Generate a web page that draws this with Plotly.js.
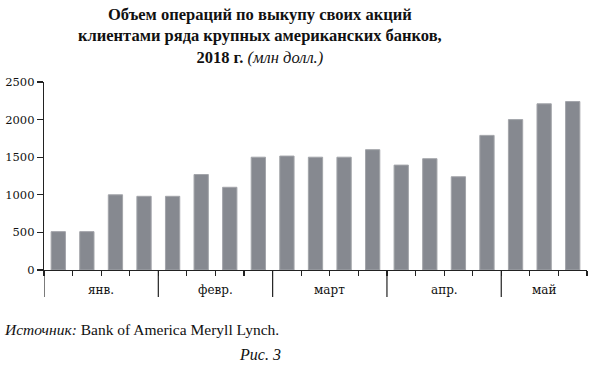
<!DOCTYPE html>
<html>
<head>
<meta charset="utf-8">
<script src="https://cdn.plot.ly/plotly-3.0.1.min.js"></script>
<style>html,body{margin:0;padding:0;background:#fff;}#chart{width:595px;height:371px;}</style>
</head>
<body>
<div id="chart"></div>
<script>
// Data
const months = ['янв.', 'февр.', 'март', 'апр.', 'май'];
const monthCounts = [4, 4, 4, 4, 3];
const values = [510, 510, 1000, 980, 980, 1270, 1100, 1500, 1515, 1500, 1500, 1600, 1395, 1480, 1240, 1790, 2000, 2210, 2240];
const yTicks = [0, 500, 1000, 1500, 2000, 2500];

// Build categories (one per bar, grouped by month)
const categories = [];
months.forEach((m, i) => { for (let j = 0; j < monthCounts[i]; j++) categories.push(m + ' #' + (j + 1)); });

// Month group boundaries and centers (category index units)
const shapes = [];
const annotations = [];
let start = 0;
months.forEach((m, i) => {
  const b0 = start - 0.5;
  shapes.push({type: 'line', xref: 'x', yref: 'paper', x0: b0, x1: b0, y0: 0, y1: -0.144,
               line: {color: '#222', width: 1.2}});
  annotations.push({xref: 'x', yref: 'paper', x: start + (monthCounts[i] - 1) / 2, y: -0.108,
                    text: m, showarrow: false, xanchor: 'center', yanchor: 'middle',
                    font: {family: 'DejaVu Serif', size: 12, color: '#111'}});
  start += monthCounts[i];
});

annotations.push({xref: 'paper', yref: 'paper', x: 0.398, y: 1.418, xanchor: 'center', yanchor: 'top',
  showarrow: false,
  text: '<b>Объем операций по выкупу своих акций<br>клиентами ряда крупных американских банков,<br>2018 г.</b> <i>(млн долл.)</i>',
  font: {family: 'Liberation Serif', size: 16.5, color: '#111'}});
annotations.push({xref: 'paper', yref: 'paper', x: -0.077, y: -0.319, xanchor: 'left', yanchor: 'middle',
  showarrow: false, text: '<i>Источник:</i> Bank of America Meryll Lynch.',
  font: {family: 'Liberation Serif', size: 15.5, color: '#111'}});
annotations.push({xref: 'paper', yref: 'paper', x: 0.398, y: -0.452, xanchor: 'center', yanchor: 'middle',
  showarrow: false, text: '<i>Рис. 3</i>',
  font: {family: 'Liberation Serif', size: 16, color: '#111'}});

const trace = {
  type: 'bar', x: categories, y: values,
  marker: {color: '#868990', line: {color: '#a3a5aa', width: 1}},
  hoverinfo: 'skip'
};

const layout = {
  width: 595, height: 371,
  margin: {l: 44, r: 8, t: 82, b: 101},
  paper_bgcolor: '#fff', plot_bgcolor: '#fff',
  bargap: 0.5,
  showlegend: false,
  xaxis: {
    type: 'category', showticklabels: false, tickson: 'boundaries',
    ticks: 'outside', ticklen: 5, tickcolor: '#222', tickwidth: 1.2,
    showline: true, linecolor: '#222', linewidth: 1.2, showgrid: false, zeroline: false,
    range: [-0.5, categories.length - 0.5], fixedrange: true
  },
  yaxis: {
    range: [0, 2500], tickvals: yTicks, ticktext: yTicks.map(String),
    ticks: 'outside', ticklen: 6, tickcolor: '#222', tickwidth: 1.2,
    showline: true, linecolor: '#222', linewidth: 1.2, showgrid: false, zeroline: false,
    tickfont: {family: 'DejaVu Serif', size: 11.5, color: '#111'}, fixedrange: true
  },
  shapes: shapes,
  annotations: annotations
};

Plotly.newPlot('chart', [trace], layout, {displayModeBar: false, staticPlot: true});
</script>
</body>
</html>
